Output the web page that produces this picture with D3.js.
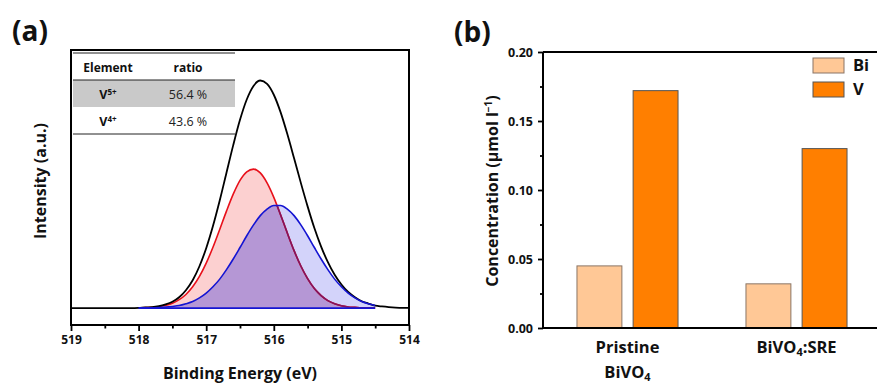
<!DOCTYPE html>
<meta charset="utf-8">
<style>
  body { margin: 0; background: #fff; }
  text { font-family: "Open Sans", "DejaVu Sans", sans-serif; }
</style>
<svg width="877" height="387"></svg>
<script src="https://cdn.jsdelivr.net/npm/d3@7"></script>
<script>

// ---- panel (a): V 2p3/2 XPS fit ----
var energy = [519.0, 518.9, 518.8, 518.7, 518.6, 518.5, 518.4, 518.3, 518.2, 518.1,
  518.0, 517.9, 517.8, 517.7, 517.6, 517.5, 517.4, 517.3, 517.2, 517.1,
  517.0, 516.9, 516.8, 516.7, 516.6, 516.5, 516.4, 516.3, 516.2, 516.1,
  516.0, 515.9, 515.8, 515.7, 515.6, 515.5, 515.4, 515.3, 515.2, 515.1,
  515.0, 514.9, 514.8, 514.7, 514.6, 514.5, 514.4, 514.3, 514.2, 514.1, 514.0];

var envelope = [0, 0, 0, 0, 0, 0, 0, 0, 0, 0,
  0.001, 0.003, 0.004, 0.008, 0.016, 0.028, 0.048, 0.079, 0.123, 0.185,
  0.265, 0.363, 0.476, 0.599, 0.721, 0.833, 0.923, 0.983, 1.007, 0.992,
  0.944, 0.867, 0.770, 0.663, 0.554, 0.450, 0.354, 0.272, 0.203, 0.147,
  0.104, 0.071, 0.048, 0.030, 0.020, 0.011, 0.007, 0.004, 0.002, 0.001, 0.001];

// V5+ component (null = not drawn)
var v5 = [null, null, null, null, null, null, null, null, null, null,
  0.001, 0.002, 0.003, 0.006, 0.012, 0.021, 0.037, 0.060, 0.094, 0.140,
  0.199, 0.269, 0.348, 0.429, 0.504, 0.565, 0.603, 0.615, 0.598, 0.554,
  0.490, 0.413, 0.332, 0.254, 0.186, 0.130, 0.086, 0.055, 0.033, 0.019,
  0.010, 0.005, 0.003, 0.001, 0.001, 0.000, null, null, null, null, null];

// V4+ component
var v4 = [null, null, null, null, null, null, null, null, null, null,
  0.000, 0.001, 0.001, 0.002, 0.004, 0.007, 0.011, 0.019, 0.029, 0.045,
  0.066, 0.094, 0.128, 0.170, 0.217, 0.268, 0.320, 0.368, 0.409, 0.438,
  0.454, 0.454, 0.438, 0.409, 0.368, 0.320, 0.268, 0.217, 0.170, 0.128,
  0.094, 0.066, 0.045, 0.029, 0.019, 0.011, null, null, null, null, null];

var energyTicks = [519, 518, 517, 516, 515, 514];
var energyMinor = [518.5, 517.5, 516.5, 515.5, 514.5];

var tableHead = ["Element", "ratio"];
var tableSpecies = ["5+", "4+"];
var tableRatio = ["56.4 %", "43.6 %"];

// ---- panel (b): dissolved ions ----
var groups = ["pristine", "sre"];
var elements = ["Bi", "V"];
var biConc = [0.045, 0.032];
var vConc = [0.172, 0.130];
var concTicks = [0, 0.05, 0.10, 0.15, 0.20];
var concMinor = [0.025, 0.075, 0.125, 0.175];

var svg = d3.select("svg");

// ================= (a) =================
var ax = { left: 71, right: 409, top: 50, bottom: 325 };
var x = d3.scaleLinear().domain([519, 514]).range([ax.left, ax.right]);
var y = d3.scaleLinear().domain([-0.075, 1.142]).range([ax.bottom, ax.top]);

var pts = function(arr) {
  return energy.map(function(e, i) { return { e: e, v: arr[i] }; });
};
var env = pts(envelope), p5 = pts(v5), p4 = pts(v4);

var area = d3.area()
    .defined(function(d) { return d.v !== null; })
    .x(function(d) { return x(d.e); })
    .y0(y(0))
    .y1(function(d) { return y(d.v); })
    .curve(d3.curveMonotoneX);
var line = d3.line()
    .defined(function(d) { return d.v !== null; })
    .x(function(d) { return x(d.e); })
    .y(function(d) { return y(d.v); })
    .curve(d3.curveMonotoneX);

var defs = svg.append("defs");
defs.append("clipPath").attr("id", "clipRed")
  .append("path").attr("d", area(p5));
defs.append("clipPath").attr("id", "clipBlue")
  .append("path").attr("d", area(p4));

var ga = svg.append("g");

// table
var tl = 73, tr = 235;
ga.append("rect").attr("x", tl).attr("y", 80).attr("width", tr - tl).attr("height", 27)
  .attr("fill", "#c9c9c9");
[53, 80, 134].forEach(function(yy) {
  ga.append("line").attr("x1", tl).attr("x2", tr).attr("y1", yy).attr("y2", yy)
    .attr("stroke", "#222").attr("stroke-width", 1);
});
var colX = [108, 188];
tableHead.forEach(function(h, i) {
  ga.append("text").attr("x", colX[i]).attr("y", 72).attr("text-anchor", "middle")
    .attr("font-size", 12).attr("font-weight", 700).attr("fill", "#111").text(h);
});
tableSpecies.forEach(function(s, i) {
  var t = ga.append("text").attr("x", colX[0]).attr("y", 99 + i * 27)
    .attr("text-anchor", "middle").attr("font-size", 12.5).attr("font-weight", 700).attr("fill", "#111");
  t.append("tspan").text("V");
  t.append("tspan").attr("dy", -4).attr("font-size", 8).text(s);
  ga.append("text").attr("x", colX[1]).attr("y", 99 + i * 27).attr("text-anchor", "middle")
    .attr("font-size", 12.5).attr("fill", "#222").text(tableRatio[i]);
});

// fills
ga.append("path").attr("d", area(p5)).attr("fill", "#fcd0d0");
ga.append("path").attr("d", area(p4)).attr("fill", "#d3d3fa");
ga.append("path").attr("d", area(p4)).attr("fill", "#b597d5").attr("clip-path", "url(#clipRed)");

// lines
ga.append("path").attr("d", line(p5)).attr("fill", "none").attr("stroke", "#e8101a").attr("stroke-width", 1.6);
ga.append("path").attr("d", line(p5)).attr("fill", "none").attr("stroke", "#82145e").attr("stroke-width", 1.6)
  .attr("clip-path", "url(#clipBlue)");
ga.append("path").attr("d", line(env)).attr("fill", "none").attr("stroke", "#000").attr("stroke-width", 1.8);
// baseline of the V4+ fill
var v4Range = d3.extent(p4.filter(function(d) { return d.v !== null; }), function(d) { return d.e; });
ga.append("line").attr("x1", x(v4Range[1])).attr("x2", x(v4Range[0]))
  .attr("y1", y(0)).attr("y2", y(0)).attr("stroke", "#1414d2").attr("stroke-width", 1.8);
ga.append("path").attr("d", line(p4)).attr("fill", "none").attr("stroke", "#1414d2").attr("stroke-width", 1.6);

// frame
ga.append("rect").attr("x", ax.left).attr("y", ax.top)
  .attr("width", ax.right - ax.left).attr("height", ax.bottom - ax.top)
  .attr("fill", "none").attr("stroke", "#000").attr("stroke-width", 2);

var xAxis = ga.append("g").attr("transform", "translate(0," + ax.bottom + ")")
  .call(d3.axisBottom(x).tickValues(energyTicks).tickFormat(d3.format("d"))
    .tickSize(6).tickSizeOuter(0).tickPadding(4));
var xMinor = ga.append("g").attr("transform", "translate(0," + ax.bottom + ")")
  .call(d3.axisBottom(x).tickValues(energyMinor).tickFormat("").tickSize(3.5).tickSizeOuter(0));
xAxis.select(".domain").remove();
xMinor.select(".domain").remove();
ga.selectAll(".tick line").attr("stroke", "#000").attr("stroke-width", 1.8);
xAxis.selectAll(".tick text").attr("font-size", 12).attr("font-weight", 700)
  .attr("fill", "#111").style("font-family", "'Open Sans', sans-serif");

ga.append("text").attr("x", 240).attr("y", 379).attr("text-anchor", "middle")
  .attr("font-size", 16).attr("font-weight", 700).attr("fill", "#111").text("Binding Energy (eV)");
ga.append("text").attr("transform", "translate(46,181) rotate(-90)").attr("text-anchor", "middle")
  .attr("font-size", 16).attr("font-weight", 700).attr("fill", "#111").text("Intensity (a.u.)");
ga.append("text").attr("x", 12).attr("y", 41).attr("font-size", 28).attr("font-weight", 700)
  .attr("fill", "#111").text("(a)");

// ================= (b) =================
var bx = { left: 543, right: 881, top: 52, bottom: 328 };
var x0 = d3.scaleBand().domain(groups).range([bx.left, bx.right])
  .paddingInner(0.402).paddingOuter(0.201);
var x1 = d3.scaleBand().domain(elements).range([0, x0.bandwidth()]).paddingInner(0.2);
var yb = d3.scaleLinear().domain([0, 0.20]).range([bx.bottom, bx.top]);
var barColor = { Bi: "#ffc896", V: "#ff7f00" };
var barStroke = { Bi: "#8a7566", V: "#555" };

var gb = svg.append("g");
var series = { Bi: biConc, V: vConc };

groups.forEach(function(g, gi) {
  elements.forEach(function(el) {
    var val = series[el][gi];
    gb.append("rect")
      .attr("x", x0(g) + x1(el)).attr("width", x1.bandwidth())
      .attr("y", yb(val)).attr("height", yb(0) - yb(val))
      .attr("fill", barColor[el]).attr("stroke", barStroke[el]).attr("stroke-width", 1);
  });
});

// frame lines
[[bx.left, bx.top, bx.right, bx.top], [bx.left, bx.bottom, bx.right, bx.bottom],
 [bx.right, bx.top, bx.right, bx.bottom], [bx.left, bx.top, bx.left, bx.bottom]].forEach(function(s) {
  gb.append("line").attr("x1", s[0]).attr("y1", s[1]).attr("x2", s[2]).attr("y2", s[3])
    .attr("stroke", "#000").attr("stroke-width", 2);
});

var yAxis = gb.append("g").attr("transform", "translate(" + bx.left + ",0)")
  .call(d3.axisLeft(yb).tickValues(concTicks).tickFormat(d3.format(".2f"))
    .tickSize(5).tickSizeOuter(0).tickPadding(5));
var yMinor = gb.append("g").attr("transform", "translate(" + bx.left + ",0)")
  .call(d3.axisLeft(yb).tickValues(concMinor).tickFormat("").tickSize(3).tickSizeOuter(0));
yAxis.select(".domain").remove();
yMinor.select(".domain").remove();
gb.selectAll(".tick line").attr("stroke", "#000").attr("stroke-width", 1.8);
yAxis.selectAll(".tick text").attr("font-size", 12.5).attr("font-weight", 700)
  .attr("fill", "#111").style("font-family", "'Open Sans', sans-serif");

var yt = gb.append("text").attr("transform", "translate(498,191) rotate(-90)").attr("text-anchor", "middle")
  .attr("font-size", 16).attr("font-weight", 700).attr("fill", "#111");
yt.append("tspan").text("Concentration (\u03bcmol l");
yt.append("tspan").attr("dy", -6).attr("font-size", 10).text("\u22121");
yt.append("tspan").attr("dy", 6).text(")");

// category labels
var labelCx = [x0(groups[0]) + x0.bandwidth() / 2, x0(groups[1]) + x0.bandwidth() / 2];
gb.append("text").attr("x", labelCx[0]).attr("y", 353).attr("text-anchor", "middle")
  .attr("font-size", 16.5).attr("font-weight", 700).attr("fill", "#111").text("Pristine");
var l2 = gb.append("text").attr("x", labelCx[0]).attr("y", 378).attr("text-anchor", "middle")
  .attr("font-size", 16.5).attr("font-weight", 700).attr("fill", "#111");
l2.append("tspan").text("BiVO");
l2.append("tspan").attr("dy", 3).attr("font-size", 11).text("4");
var l3 = gb.append("text").attr("x", labelCx[1]).attr("y", 353).attr("text-anchor", "middle")
  .attr("font-size", 16.5).attr("font-weight", 700).attr("fill", "#111");
l3.append("tspan").text("BiVO");
l3.append("tspan").attr("dy", 3).attr("font-size", 11).text("4");
l3.append("tspan").attr("dy", -3).text(":SRE");

// legend
elements.forEach(function(el, i) {
  gb.append("rect").attr("x", 813).attr("y", 58 + i * 24).attr("width", 31).attr("height", 15)
    .attr("fill", barColor[el]).attr("stroke", barStroke[el]).attr("stroke-width", 1);
  gb.append("text").attr("x", 853).attr("y", 71 + i * 24).attr("font-size", 16.5)
    .attr("font-weight", 700).attr("fill", "#111").text(el);
});

gb.append("text").attr("x", 454).attr("y", 42).attr("font-size", 28).attr("font-weight", 700)
  .attr("fill", "#111").text("(b)");

</script>
